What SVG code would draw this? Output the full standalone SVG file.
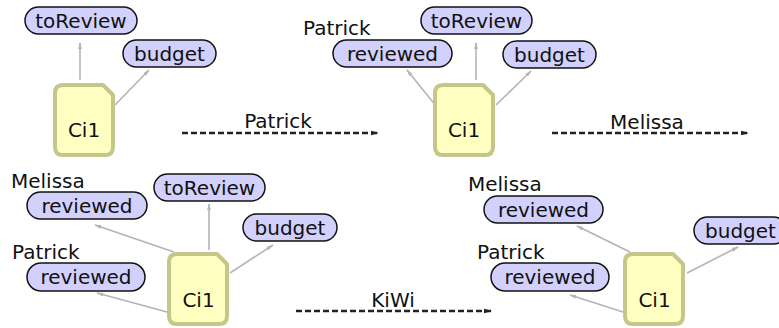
<svg xmlns="http://www.w3.org/2000/svg" width="779" height="328" viewBox="0 0 779 328">
<style>
text{font-family:"DejaVu Sans","Liberation Sans",sans-serif;font-size:20px;fill:#111}
.pill{fill:#d2d0fc;stroke:#111;stroke-width:1.5}
.ci{fill:#ffffc2;stroke:#c6c68a;stroke-width:4;stroke-linejoin:round}
.m{text-anchor:middle}
.g{stroke:#b4b4b4;stroke-width:1.6;fill:none;marker-end:url(#ga)}
.d{stroke:#222;stroke-width:2.5;stroke-dasharray:6 3;fill:none;marker-end:url(#da)}
</style>
<defs>
<marker id="ga" viewBox="0 0 10 10" refX="9" refY="5" markerWidth="7" markerHeight="5" orient="auto" markerUnits="userSpaceOnUse" preserveAspectRatio="none"><path d="M0,1 L10,5 L0,9 Z" fill="#b4b4b4"/></marker>
<marker id="da" viewBox="0 0 10 10" refX="9" refY="5" markerWidth="8" markerHeight="6" orient="auto" markerUnits="userSpaceOnUse" preserveAspectRatio="none"><path d="M0,1 L10,5 L0,9 Z" fill="#222"/></marker>
<path id="cishape" d="M8,0 H48 L58,10 V62 Q58,70 50,70 H8 Q0,70 0,62 V8 Q0,0 8,0 Z"/>
</defs>

<g id="connectors">
<line class="g" x1="80" y1="80" x2="80" y2="43"/>
<line class="g" x1="115" y1="105" x2="149" y2="70"/>
<line class="g" x1="436" y1="106" x2="407" y2="70"/>
<line class="g" x1="476" y1="80" x2="476" y2="43"/>
<line class="g" x1="496" y1="105" x2="531" y2="71"/>
<line class="g" x1="174" y1="252" x2="95" y2="225"/>
<line class="g" x1="209" y1="250" x2="209" y2="204"/>
<line class="g" x1="230" y1="273" x2="273" y2="245"/>
<line class="g" x1="167" y1="312" x2="97" y2="293"/>
<line class="g" x1="630" y1="252" x2="577" y2="226"/>
<line class="g" x1="623" y1="312" x2="570" y2="295"/>
<line class="g" x1="687" y1="273" x2="738" y2="247"/>
<path class="d" d="M182,133 H378"/>
<path class="d" d="M552,133 H748"/>
<path class="d" d="M296,311 H491"/>
<text class="m" x="278" y="128">Patrick</text>
<text class="m" x="647" y="129">Melissa</text>
<text class="m" x="393" y="307">KiWi</text>
</g>

<g id="p1-ci1"><use href="#cishape" class="ci" transform="translate(55,85)"/><text class="m" x="84" y="137">Ci1</text></g>
<g id="p1-toReview"><rect class="pill" x="25" y="7" width="112" height="27" rx="13.5"/><text class="m" x="81" y="28">toReview</text></g>
<g id="p1-budget"><rect class="pill" x="123" y="40" width="93" height="27" rx="13.5"/><text class="m" x="169.5" y="61">budget</text></g>

<g id="p2-ci1"><use href="#cishape" class="ci" transform="translate(435,85)"/><text class="m" x="464" y="137">Ci1</text></g>
<g id="p2-reviewed"><text x="303" y="35">Patrick</text><rect class="pill" x="333" y="40" width="119" height="27" rx="13.5"/><text class="m" x="392.5" y="61">reviewed</text></g>
<g id="p2-toReview"><rect class="pill" x="421" y="7" width="111" height="27" rx="13.5"/><text class="m" x="476.5" y="28">toReview</text></g>
<g id="p2-budget"><rect class="pill" x="503" y="41" width="93" height="27" rx="13.5"/><text class="m" x="549.5" y="62">budget</text></g>

<g id="p3-ci1"><use href="#cishape" class="ci" transform="translate(169,254)"/><text class="m" x="198.5" y="307">Ci1</text></g>
<g id="p3-reviewed-m"><text x="11" y="188">Melissa</text><rect class="pill" x="27" y="192" width="120" height="27" rx="13.5"/><text class="m" x="87" y="213">reviewed</text></g>
<g id="p3-toReview"><rect class="pill" x="154" y="174" width="111" height="27" rx="13.5"/><text class="m" x="209.5" y="195">toReview</text></g>
<g id="p3-budget"><rect class="pill" x="243" y="214" width="94" height="27" rx="13.5"/><text class="m" x="290" y="235">budget</text></g>
<g id="p3-reviewed-p"><text x="12" y="259">Patrick</text><rect class="pill" x="27" y="263" width="118" height="28" rx="14"/><text class="m" x="86" y="284">reviewed</text></g>

<g id="p4-ci1"><use href="#cishape" class="ci" transform="translate(625,254)"/><text class="m" x="654.5" y="307">Ci1</text></g>
<g id="p4-reviewed-m"><text x="468" y="191">Melissa</text><rect class="pill" x="484" y="196" width="119" height="27" rx="13.5"/><text class="m" x="543.5" y="217">reviewed</text></g>
<g id="p4-reviewed-p"><text x="477" y="259">Patrick</text><rect class="pill" x="491" y="263" width="118" height="28" rx="14"/><text class="m" x="550" y="284">reviewed</text></g>
<g id="p4-budget"><rect class="pill" x="694" y="217" width="93" height="27" rx="13.5"/><text class="m" x="740.5" y="238">budget</text></g>
</svg>
